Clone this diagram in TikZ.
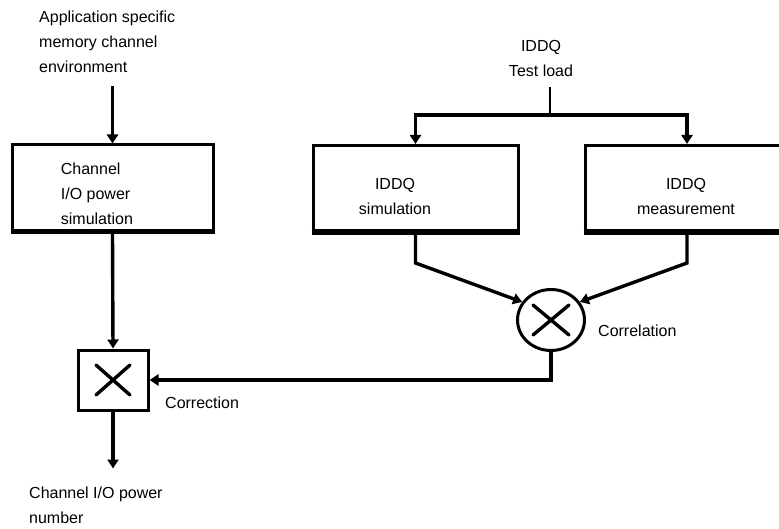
\documentclass[tikz,border=0pt]{standalone}
\usepackage{fontspec}
\setmainfont{Liberation Sans}
\usetikzlibrary{arrows.meta,shapes.geometric,calc}
\tikzset{
  txt/.style={inner sep=0pt,font=\fontsize{16}{25}\selectfont},
  blk/.style={draw,line width=3pt,minimum width=#1,minimum height=86pt,inner sep=0pt},
  arr/.style={line width=3.4pt,-{Triangle[length=9pt,width=11pt]}},
  xstroke/.style={line width=3.4pt,line cap=round}
}
\begin{document}
\begin{tikzpicture}[x=1pt,y=-1pt]
\useasboundingbox (0,0) rectangle (779,529);
\clip (0,0) rectangle (779,529);
% texts
\node[txt,anchor=north west,align=left] (envtxt) at (39,11.2) {Application specific\\memory channel\\environment};
\node[txt,anchor=north,align=center] (testtxt) at (541,40.2) {IDDQ\\Test load};
% boxes
\node[blk=201pt] (chsim) at (112.5,188) {};
\node[txt,anchor=north west,align=left] at (60.7,162.5) {Channel\\I/O power\\simulation};
\node[blk=205pt] (isim) at (415.5,188.5) {};
\node[txt,anchor=north,align=center] at (395,178.5) {IDDQ\\simulation};
\node[blk=204pt] (imeas) at (687,188.5) {};
\node[txt,anchor=north,align=center] at (686,178.5) {IDDQ\\measurement};
\draw[line width=5.5pt] ([yshift=1pt]chsim.south west) -- ([yshift=1pt]chsim.south east);
\draw[line width=5.5pt] ([yshift=1pt]isim.south west) -- ([yshift=1pt]isim.south east);
\draw[line width=5.5pt] ([yshift=1pt]imeas.south west) -- ([yshift=1pt]imeas.south east);
% correlation
\node[draw,ellipse,line width=3pt,minimum width=67pt,minimum height=61pt,inner sep=0pt] (mul) at (551,320) {};
\draw[xstroke] ($(mul.center)+(-18,-15)$) -- ($(mul.center)+(18,15)$);
\draw[xstroke] ($(mul.center)+(-18,15)$) -- ($(mul.center)+(18,-15)$);
\node[txt,anchor=base west] (corrlbl) at (598,336.7) {Correlation};
% correction
\node[draw,line width=3pt,minimum width=70pt,minimum height=60pt,inner sep=0pt] (corr) at (113,380) {};
\draw[xstroke] ($(corr.center)+(-17,-15)$) -- ($(corr.center)+(17,15)$);
\draw[xstroke] ($(corr.center)+(-17,15)$) -- ($(corr.center)+(17,-15)$);
\node[txt,anchor=base west] (corrtxt) at (165,408) {Correction};
% output
\node[txt,anchor=north west,align=left] (outtxt) at (29,486.5) {Channel I/O power\\number};
% connectors
\coordinate (split) at (550,115);
\draw[arr] (chsim.north |- 0,86) -- (chsim.north);
\draw[line width=2.6pt] (split |- 0,87) -- (split);
\draw[arr] (split) -| (isim.north);
\draw[arr] (split) -| (imeas.north);
\draw[arr] (isim.south) -- ++(0,30) -- (mul.148);
\draw[arr] (imeas.south) -- ++(0,30) -- (mul.32);
\draw[arr] (mul.south) |- (corr.east);
\draw[arr] (chsim.south) -- (corr.north);
\draw[arr] (corr.south) -- ++(0,57);
\end{tikzpicture}
\end{document}
